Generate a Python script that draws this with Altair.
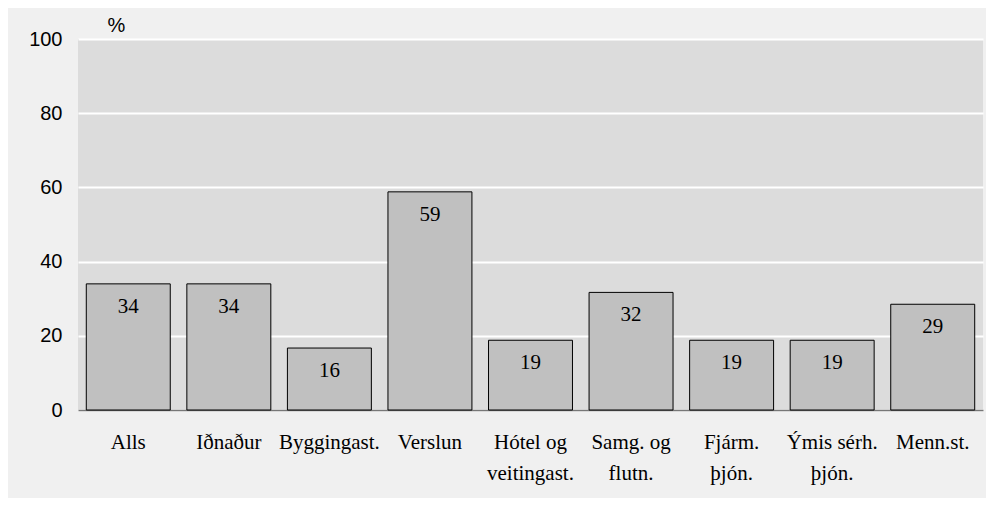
import altair as alt
import pandas as pd

categories = ["Alls", "Iðnaður", "Byggingast.", "Verslun", "Hótel og|veitingast.",
              "Samg. og|flutn.", "Fjárm.|þjón.", "Ýmis sérh.|þjón.", "Menn.st."]
values = [34.0, 34.0, 16.7, 58.8, 18.8, 31.7, 18.8, 18.8, 28.5]
labels = ["34", "34", "16", "59", "19", "32", "19", "19", "29"]
y_ticks = [0, 20, 40, 60, 80, 100]

df = pd.DataFrame({"cat": categories, "val": values, "lab": labels})

serif = "Liberation Serif"
sans = "Liberation Sans"

x = alt.X("cat:N", sort=categories, title=None,
          scale=alt.Scale(paddingInner=0.165, paddingOuter=0.0825),
          axis=alt.Axis(labelAngle=0, labelFont=serif, labelFontSize=21, labelColor="#000",
                        labelExpr="split(datum.value, '|')", labelLineHeight=31,
                        labelPadding=21, ticks=False, domainColor="#777777",
                        domainWidth=1.5, labelBaseline="top"))

y = alt.Y("val:Q", scale=alt.Scale(domain=[0, 100], nice=False),
          axis=alt.Axis(values=y_ticks, title="%", titleAngle=0, titleFont=sans,
                        titleFontSize=20, titleFontWeight="normal", titleColor="#000",
                        titleAlign="left", titleBaseline="alphabetic", titleX=29, titleY=-8,
                        labelFont=sans, labelFontSize=20, labelColor="#000",
                        labelPadding=16, ticks=False, domain=False,
                        grid=True, gridColor="#ffffff", gridWidth=2))

bars = alt.Chart(df).mark_bar(fill="#c0c0c0", stroke="#000000", strokeWidth=1).encode(x=x, y=y)

text = alt.Chart(df).mark_text(font=serif, fontSize=21, color="#000", baseline="alphabetic",
                               dy=29).encode(x=alt.X("cat:N", sort=categories), y="val:Q", text="lab:N")

chart = alt.layer(bars, text).properties(
    width=905, height=371,
    autosize=alt.AutoSizeParams(type="none"),
    padding={"left": 70, "top": 31, "right": 3, "bottom": 88},
    background="#f0f0f0",
).configure_view(fill="#dcdcdc", stroke=None)

chart.save("out.html", embed_options={"renderer": "svg", "actions": False})
